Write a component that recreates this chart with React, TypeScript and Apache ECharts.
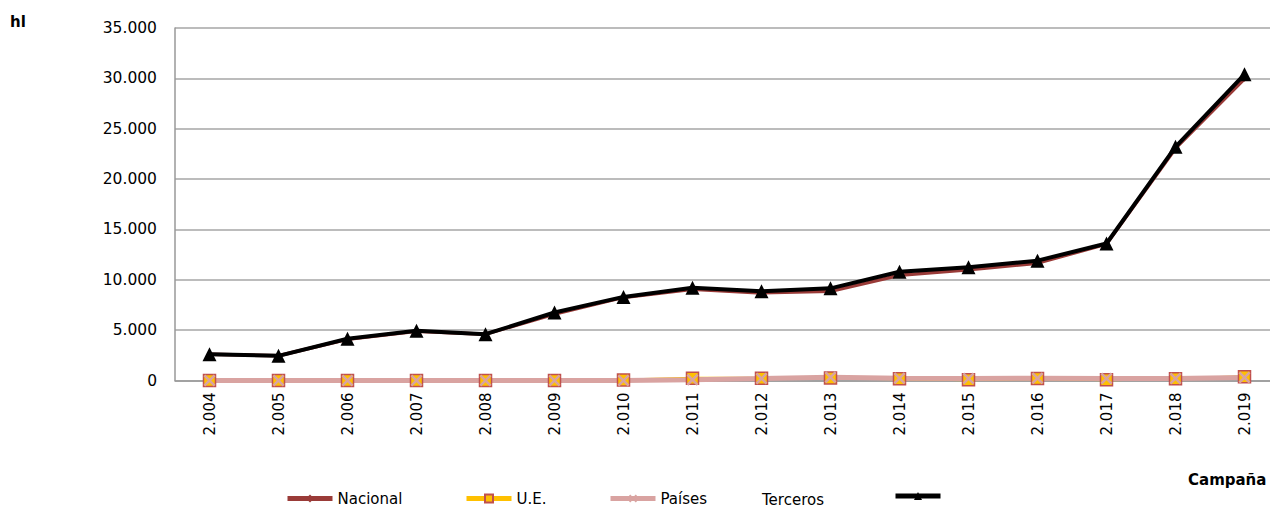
import React, { useEffect, useRef } from "react";
import * as echarts from "echarts";

const campanas = ["2.004","2.005","2.006","2.007","2.008","2.009","2.010","2.011","2.012","2.013","2.014","2.015","2.016","2.017","2.018","2.019"];
const nacional = [2600,2450,4100,4900,4600,6600,8250,9050,8700,8850,10450,11000,11650,13550,23050,29950];
const ue = [0,0,0,0,0,0,50,230,220,250,180,80,200,80,180,380];
const paises = [0,0,0,0,0,0,0,80,200,330,230,200,230,200,200,300];
const total = [2600,2450,4150,4950,4600,6750,8300,9200,8850,9150,10800,11250,11900,13600,23200,30400];
const yTicks = { min: 0, max: 35000, interval: 5000 };

const FONT = "DejaVu Sans";
const xShape = "path://M0,1.5L1.5,0L5,3.5L8.5,0L10,1.5L6.5,5L10,8.5L8.5,10L5,6.5L1.5,10L0,8.5L3.5,5Z";

function fmt(v: number) {
  return String(v).replace(/\B(?=(\d{3})+(?!\d))/g, ".");
}

export default function App() {
  const ref = useRef<HTMLDivElement>(null);
  useEffect(() => {
    if (!ref.current) return;
    const chart = echarts.init(ref.current, null, { renderer: "svg" });
    const legendBase = {
      top: 486,
      itemWidth: 45,
      itemHeight: 10,
      textStyle: { fontFamily: FONT, fontSize: 15, color: "#000" },
    };
    chart.setOption({
      animation: false,
      textStyle: { fontFamily: FONT },
      grid: { left: 175, top: 28, width: 1104, height: 352.5, containLabel: false },
      legend: [
        { ...legendBase, left: 280, data: ["Nacional"], lineStyle: { width: 5 } },
        { ...legendBase, left: 459, data: ["U.E."], lineStyle: { width: 5 } },
        { ...legendBase, left: 603, data: ["Países"], lineStyle: { width: 5 } },
        { ...legendBase, left: 888, data: ["Total"], formatter: () => "", lineStyle: { width: 5 } },
      ],
      graphic: [
        { type: "text", left: 10, top: 14, style: { text: "hl", font: `bold 15px ${FONT}`, fill: "#000" } },
        { type: "text", left: 1188, top: 472, style: { text: "Campaña", font: `bold 15px ${FONT}`, fill: "#000" } },
        { type: "text", left: 762, top: 492, style: { text: "Terceros", font: `15px ${FONT}`, fill: "#000" } },
      ],
      xAxis: {
        type: "category",
        data: campanas,
        boundaryGap: true,
        axisLine: { show: true, lineStyle: { color: "#999", width: 1.5 } },
        axisTick: { show: false },
        axisLabel: { rotate: 90, margin: 12, color: "#000", fontSize: 15, fontFamily: FONT, interval: 0 },
      },
      yAxis: {
        type: "value",
        ...yTicks,
        axisLine: { show: true, lineStyle: { color: "#999", width: 1.5 } },
        axisTick: { show: false },
        splitLine: { lineStyle: { color: "#a6a6a6", width: 1.5 } },
        axisLabel: { margin: 18, color: "#000", fontSize: 15.5, fontFamily: FONT, formatter: (v: number) => fmt(v) },
      },
      series: [
        {
          name: "Nacional", type: "line", data: nacional,
          symbol: "diamond", symbolSize: 6,
          lineStyle: { color: "#9a3b38", width: 3.5 },
          itemStyle: { color: "#9a3b38" },
        },
        {
          name: "U.E.", type: "line", data: ue,
          symbol: "rect", symbolSize: 12,
          lineStyle: { color: "#ffc000", width: 3 },
          itemStyle: { color: "#ffc000", borderColor: "#c0504d", borderWidth: 1.5 },
        },
        {
          name: "Países", type: "line", data: paises,
          symbol: xShape, symbolSize: 12,
          lineStyle: { color: "#d9a3a1", width: 5 },
          itemStyle: { color: "#d9a3a1" },
        },
        {
          name: "Total", type: "line", data: total,
          symbol: "triangle", symbolSize: 14,
          lineStyle: { color: "#000", width: 4 },
          itemStyle: { color: "#000" },
        },
      ],
    });
    return () => chart.dispose();
  }, []);
  return (
    <div style={{ position: "absolute", left: 0, top: 0, width: 1270, height: 511, overflow: "hidden", background: "#fff" }}>
      <div ref={ref} style={{ width: 1280, height: 511 }} />
    </div>
  );
}
